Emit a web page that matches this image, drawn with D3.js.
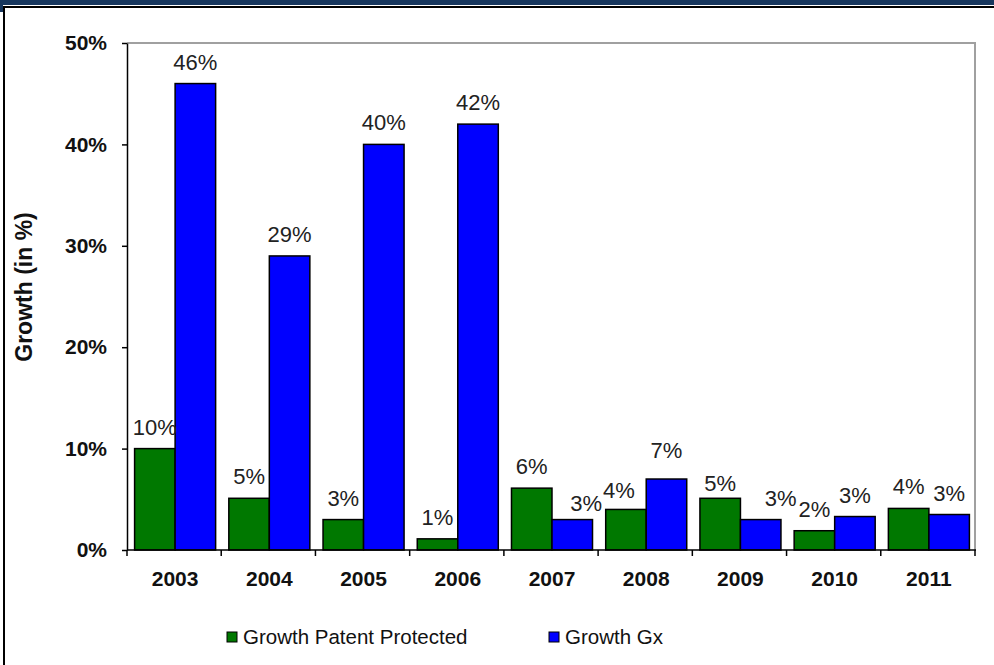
<!DOCTYPE html>
<html>
<head>
<meta charset="utf-8">
<script src="https://cdn.jsdelivr.net/npm/d3@7"></script>
<style>
  body { margin:0; background:#fff; }
  svg text { font-family: Arial, "Liberation Sans", sans-serif; }
</style>
</head>
<body>
<svg id="chart" width="994" height="665"></svg>
<script>
//----------------------------------------------------------- data
var years = ["2003","2004","2005","2006","2007","2008","2009","2010","2011"];
var growthPatent = [10.0, 5.1, 3.0, 1.1, 6.1, 4.0, 5.1, 1.9, 4.1];
var growthGx     = [46.0, 29.0, 40.0, 42.0, 3.0, 7.0, 3.0, 3.3, 3.5];
var labelPatent  = ["10%","5%","3%","1%","6%","4%","5%","2%","4%"];
var labelGx      = ["46%","29%","40%","42%","3%","7%","3%","3%","3%"];
var yTicks = [0, 10, 20, 30, 40, 50];
var seriesNames = ["Growth Patent Protected", "Growth Gx"];

// label nudges (dx,dy) as Excel left them
var nudgePatent = [[0,0],[0,0],[0,0],[0,0],[0,0],[-7,3],[0,7],[0,0],[0,0]];
var nudgeGx     = [[0,0],[0,0],[0,0],[0,0],[14,5],[0,-7],[20,0],[0,0],[0,0]];

var colors = ["#007800", "#0000ff"];

//----------------------------------------------------------- layout
var svg = d3.select("#chart");
var pLeft = 127, pRight = 975, pTop = 43, pBottom = 550;

// frame
svg.append("rect").attr("x",0).attr("y",0).attr("width",994).attr("height",5).attr("fill","#17375e");
svg.append("rect").attr("x",0).attr("y",0).attr("width",3).attr("height",12).attr("fill","#17375e");
svg.append("line").attr("x1",3).attr("x2",994).attr("y1",7).attr("y2",7).attr("stroke","#000").attr("stroke-width",2);
svg.append("line").attr("x1",4).attr("x2",4).attr("y1",7).attr("y2",665).attr("stroke","#000").attr("stroke-width",2);

var y = d3.scaleLinear().domain([0,50]).range([pBottom, pTop]);
var x0 = d3.scaleBand().domain(years).range([pLeft, pRight]).paddingInner(0.14).paddingOuter(0.07);
var x1 = d3.scaleBand().domain([0,1]).range([0, x0.bandwidth()]);

// plot area border (grey top/right)
svg.append("path")
  .attr("d","M"+pLeft+","+pTop+"H"+pRight+"V"+pBottom)
  .attr("fill","none").attr("stroke","#a0a0a0").attr("stroke-width",2);

// bars
var rows = years.map(function(yr,i){
  return {year:yr, vals:[
    {s:0, v:growthPatent[i], label:labelPatent[i], nudge:nudgePatent[i]},
    {s:1, v:growthGx[i], label:labelGx[i], nudge:nudgeGx[i]}
  ]};
});

var groups = svg.selectAll("g.year").data(rows).enter()
  .append("g").attr("class","year")
  .attr("transform", function(d){ return "translate("+(x0(d.year)+1)+",0)"; });

groups.selectAll("rect").data(function(d){ return d.vals; }).enter()
  .append("rect")
  .attr("x", function(d){ return x1(d.s); })
  .attr("width", x1.bandwidth())
  .attr("y", function(d){ return y(d.v); })
  .attr("height", function(d){ return y(0) - y(d.v); })
  .attr("fill", function(d){ return colors[d.s]; })
  .attr("stroke","#000").attr("stroke-width",1.5);

groups.selectAll("text").data(function(d){ return d.vals; }).enter()
  .append("text")
  .attr("x", function(d){ return x1(d.s) + x1.bandwidth()/2 + d.nudge[0]; })
  .attr("y", function(d){ return y(d.v) - 14 + d.nudge[1]; })
  .attr("text-anchor","middle")
  .attr("font-size","22px")
  .attr("fill","#222")
  .text(function(d){ return d.label; });

// y axis
var yAxis = d3.axisLeft(y).tickValues(yTicks).tickSize(5).tickSizeOuter(0)
  .tickFormat(function(d){ return d + "%"; });
var gy = svg.append("g").attr("transform","translate("+pLeft+",0)").call(yAxis);
gy.select(".domain").attr("stroke","#000").attr("stroke-width",1.5);
gy.selectAll(".tick line").attr("stroke","#000").attr("stroke-width",1.5);
gy.selectAll(".tick text").attr("x",-20).attr("font-size","21px").attr("font-weight","bold")
  .attr("font-family","Arial, 'Liberation Sans', sans-serif").attr("fill","#111");

// x axis with ticks at category boundaries
svg.append("line").attr("x1",pLeft).attr("x2",pRight+1).attr("y1",pBottom).attr("y2",pBottom)
  .attr("stroke","#000").attr("stroke-width",1.5);
var bounds = years.map(function(d){ return x0(d) - x0.step()*x0.paddingOuter(); }).concat([pRight]);
svg.selectAll("line.xtick").data(bounds).enter().append("line").attr("class","xtick")
  .attr("x1", function(d){ return d; }).attr("x2", function(d){ return d; })
  .attr("y1", pBottom).attr("y2", pBottom+6)
  .attr("stroke","#000").attr("stroke-width",1.5);
svg.selectAll("text.xlab").data(years).enter().append("text").attr("class","xlab")
  .attr("x", function(d){ return x0(d) + x0.bandwidth()/2 + 1; })
  .attr("y", 586)
  .attr("text-anchor","middle").attr("font-size","21px").attr("font-weight","bold").attr("fill","#111")
  .text(function(d){ return d; });

// y title
svg.append("text")
  .attr("transform","translate(32,287) rotate(-90)")
  .attr("text-anchor","middle").attr("font-size","23px").attr("font-weight","bold").attr("fill","#111")
  .text("Growth (in %)");

// legend
var legendX = [227, 549];
var leg = svg.selectAll("g.leg").data(seriesNames).enter().append("g").attr("class","leg")
  .attr("transform", function(d,i){ return "translate("+legendX[i]+",632)"; });
leg.append("rect").attr("width",10).attr("height",10)
  .attr("fill", function(d,i){ return colors[i]; }).attr("stroke","#000").attr("stroke-width",1);
leg.append("text").attr("x",16).attr("y",12).attr("font-size","20.5px").attr("fill","#111")
  .text(function(d){ return d; });
</script>
</body>
</html>
